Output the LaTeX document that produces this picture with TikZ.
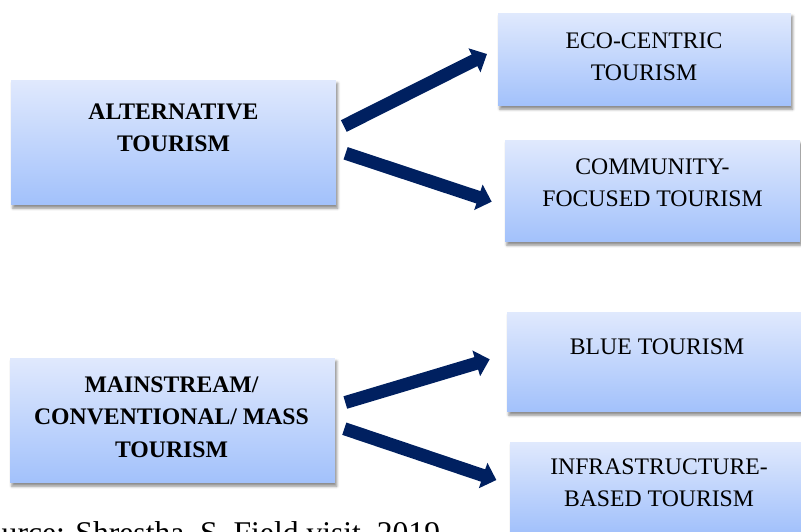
\documentclass[tikz,border=0pt]{standalone}
\usepackage{fontspec}
\setmainfont{Liberation Serif}
\usepackage{tikz}
\usetikzlibrary{arrows.meta}
\usetikzlibrary{calc}
\usetikzlibrary{shadows.blur}

\definecolor{boxtop}{RGB}{224,233,253}
\definecolor{boxbottom}{RGB}{162,193,251}
\definecolor{navy}{RGB}{0,32,96}

\begin{document}
\begin{tikzpicture}[x=0.02cm,y=-0.02cm,
  box/.style={rectangle,inner sep=0pt,top color=boxtop,bottom color=boxbottom,
    blur shadow={shadow xshift=1pt,shadow yshift=-1.8pt,shadow blur radius=1.5pt,shadow opacity=45}},
  main text/.style={align=center,inner sep=0pt,font=\fontsize{13.5}{18.4}\selectfont},
  head text/.style={main text,font=\fontsize{13.5}{18.4}\selectfont\bfseries},
  flow/.style={draw=navy,line width=7.4pt,-{Triangle[width=0.52cm,length=0.28cm]}}]

  \useasboundingbox (0,0) rectangle (801,531);
  \clip (0,0) rectangle (801,531);

  % boxes
  \node[box,minimum width=6.5cm,minimum height=2.5cm] (alt) at (173.5,142.5) {};
  \node[box,minimum width=5.86cm,minimum height=1.86cm] (eco) at (644.5,59.5) {};
  \node[box,minimum width=5.9cm,minimum height=2.04cm] (comm) at (652.5,191) {};
  \node[box,minimum width=6.5cm,minimum height=2.5cm] (mass) at (172.5,420.5) {};
  \node[box,minimum width=6cm,minimum height=2cm] (blue) at (657,362) {};
  \node[box,minimum width=5.96cm,minimum height=1.8cm] (infra) at (659,487) {};

  % texts
  \node[head text] (altT) at (173.5,128) {ALTERNATIVE\\TOURISM};
  \node[main text] (ecoT) at (644,56.5) {ECO-CENTRIC\\TOURISM};
  \node[main text] (commT) at (652.5,183) {COMMUNITY-\\FOCUSED TOURISM};
  \node[head text] (massT) at (171.5,417) {MAINSTREAM/\\CONVENTIONAL/ MASS\\TOURISM};
  \node[main text] (blueT) at (657,347) {BLUE TOURISM};
  \node[main text] (infraT) at (659,483) {INFRASTRUCTURE-\\BASED TOURISM};

  \node[anchor=base west,inner sep=0pt,font=\fontsize{18}{22}\selectfont] (src)
    at (-32,543) {Source: Shrestha, S. Field visit, 2019};

  % arrows
  \draw[flow] ($(alt.east)+(7.5,-16.5)$) -- ($(eco.west)+(-10.7,-5.5)$);
  \draw[flow] ($(alt.east)+(9.3,10.8)$) -- ($(comm.west)+(-13,10.7)$);
  \draw[flow] ($(mass.east)+(10,-18)$) -- ($(blue.west)+(-17,-2.7)$);
  \draw[flow] ($(mass.east)+(9,8.2)$) -- ($(infra.west)+(-13.3,-7)$);

\end{tikzpicture}
\end{document}
